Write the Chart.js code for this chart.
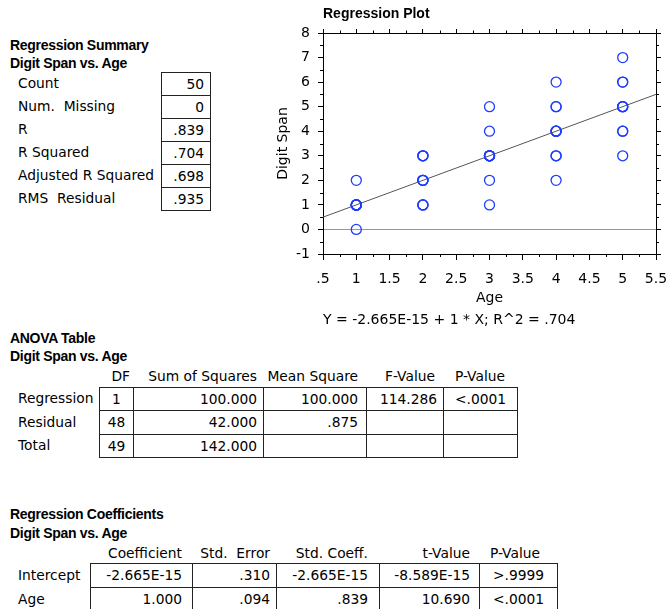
<!DOCTYPE html>
<html>
<head>
<meta charset="utf-8">
<script src="https://cdn.jsdelivr.net/npm/chart.js@4.4.1/dist/chart.umd.min.js"></script>
<style>
body { margin:0; background:#fff; width:666px; height:609px; position:relative; overflow:hidden;
       font-family:"DejaVu Sans", sans-serif; font-size:13.8px; color:#000; }
.t { position:absolute; white-space:pre; }
.h { position:absolute; white-space:pre; font-family:"Liberation Sans", Arial, sans-serif;
     font-weight:bold; font-size:14px; letter-spacing:-0.3px; }
.cell { position:absolute; box-sizing:border-box; border:1px solid #222; white-space:pre; }
#plot { position:absolute; left:260px; top:0; }
</style>
</head>
<body>
<canvas id="plot" width="406" height="335"></canvas>
<script>
// scatter data: Age vs Digit Span (50 cases)
const ages = [1,1,1,1,1,1,1,1,1,1, 2,2,2,2,2,2,2,2,2,2, 3,3,3,3,3,3,3,3,3,3,
              4,4,4,4,4,4,4,4,4,4, 5,5,5,5,5,5,5,5,5,5];
const digitSpan = [0,1,1,1,1,1,1,1,1,2, 1,1,1,2,2,2,2,3,3,3, 1,2,3,3,3,3,3,3,4,5,
                   2,3,3,4,4,4,4,5,5,6, 3,4,4,5,5,5,5,6,6,7];
const intercept = -2.665e-15;
const slope = 1;
const lineX = [0.5, 5.5];

const summaryLabels = ["Count", "Num.  Missing", "R", "R Squared", "Adjusted R Squared", "RMS  Residual"];
const summaryValues = ["50", "0", ".839", ".704", ".698", ".935"];

const anovaHeaders = ["DF", "Sum of Squares", "Mean Square", "F-Value", "P-Value"];
const anovaRows = ["Regression", "Residual", "Total"];
const anovaDF = ["1", "48", "49"];
const anovaSS = ["100.000", "42.000", "142.000"];
const anovaMS = ["100.000", ".875", ""];
const anovaF = ["114.286", "", ""];
const anovaP = ["<.0001", "", ""];

const coefHeaders = ["Coefficient", "Std.  Error", "Std. Coeff.", "t-Value", "P-Value"];
const coefRows = ["Intercept", "Age"];
const coefValue = ["-2.665E-15", "1.000"];
const coefStdErr = [".310", ".094"];
const coefStdCoeff = ["-2.665E-15", ".839"];
const coefT = ["-8.589E-15", "10.690"];
const coefP = [">.9999", "<.0001"];

function addText(txt, x, y, w, h, align, cls) {
    const d = document.createElement("div");
    d.className = cls || "t";
    d.textContent = txt;
    d.style.left = x + "px";
    d.style.top = y + "px";
    if (w) d.style.width = w + "px";
    d.style.height = h + "px";
    d.style.lineHeight = h + "px";
    if (align) d.style.textAlign = align;
    document.body.appendChild(d);
    return d;
}

function addCell(txt, x0, x1, y0, y1, align, pad) {
    const d = document.createElement("div");
    d.className = "cell";
    d.textContent = txt;
    d.style.left = x0 + "px";
    d.style.top = y0 + "px";
    d.style.width = (x1 - x0 + 1) + "px";
    d.style.height = (y1 - y0 + 1) + "px";
    d.style.lineHeight = (y1 - y0 - 1) + "px";
    d.style.textAlign = align;
    if (align === "right") d.style.paddingRight = pad + "px";
    document.body.appendChild(d);
}

// generic table: row labels + columns of values
function drawTable(rowLabels, headers, columns, colX, rowY, headerY, headPad, aligns, cellPad) {
    headers.forEach((h, j) => {
        addText(h, colX[j], headerY, colX[j + 1] - colX[j] - headPad[j], 18, "right");
    });
    rowLabels.forEach((lab, i) => {
        addText(lab, 18, rowY[i], 0, rowY[i + 1] - rowY[i], "left");
        columns.forEach((col, j) => {
            addCell(col[i], colX[j], colX[j + 1], rowY[i], rowY[i + 1], aligns[j], cellPad[j]);
        });
    });
}

// Regression Summary
addText("Regression Summary", 10, 36, 0, 18, "left", "h");
addText("Digit Span vs. Age", 10, 54, 0, 18, "left", "h");
const sumRowY = [72, 95, 118, 141, 164, 187, 210];
summaryLabels.forEach((lab, i) => {
    addText(lab, 18, sumRowY[i], 0, sumRowY[i + 1] - sumRowY[i], "left");
    addCell(summaryValues[i], 161, 210, sumRowY[i], sumRowY[i + 1], "right", 6);
});

// ANOVA table
addText("ANOVA Table", 10, 329, 0, 18, "left", "h");
addText("Digit Span vs. Age", 10, 347, 0, 18, "left", "h");
drawTable(anovaRows, anovaHeaders, [anovaDF, anovaSS, anovaMS, anovaF, anovaP],
    [99, 133, 263, 366, 443, 517], [387, 410, 434, 457], 367,
    [3, 6, 8, 8, 12],
    ["center", "right", "right", "right", "center"], [0, 6, 8, 6, 0]);

// Regression Coefficients
addText("Regression Coefficients", 10, 505, 0, 18, "left", "h");
addText("Digit Span vs. Age", 10, 524, 0, 18, "left", "h");
drawTable(coefRows, coefHeaders, [coefValue, coefStdErr, coefStdCoeff, coefT, coefP],
    [90, 192, 276, 379, 479, 557], [563, 587, 611], 544,
    [10, 6, 11, 9, 17],
    ["right", "right", "right", "right", "center"], [10, 6, 11, 9, 0]);

// minor tick marks between the major ticks of each axis
const minorTicks = {
    id: "minorTicks",
    afterDraw(chart) {
        const c = chart.ctx;
        const a = chart.chartArea;
        c.save();
        c.strokeStyle = "#000";
        c.lineWidth = 1;
        c.beginPath();
        const xs = chart.scales.x;
        for (let i = 0; i < xs.ticks.length - 1; i++) {
            const v = (xs.ticks[i].value + xs.ticks[i + 1].value) / 2;
            const p = Math.round(xs.getPixelForValue(v)) + 0.5;
            c.moveTo(p, a.bottom); c.lineTo(p, a.bottom + 3);
            c.moveTo(p, a.top); c.lineTo(p, a.top - 2.5);
        }
        const ys = chart.scales.y;
        for (let i = 0; i < ys.ticks.length - 1; i++) {
            const v = (ys.ticks[i].value + ys.ticks[i + 1].value) / 2;
            const p = Math.round(ys.getPixelForValue(v)) + 0.5;
            c.moveTo(a.left, p); c.lineTo(a.left - 3, p);
            c.moveTo(a.right, p); c.lineTo(a.right + 3, p);
        }
        c.stroke();
        c.restore();
    }
};

const tickFont = { family: "DejaVu Sans", size: 14 };
const fmt = v => String(v).replace(/^0\./, ".");
const noPad = s => { s.paddingLeft = 0; s.paddingRight = 0; };

new Chart(document.getElementById("plot").getContext("2d"), {
    type: "scatter",
    data: {
        datasets: [{
            data: ages.map((a, i) => ({ x: a, y: digitSpan[i] })),
            pointStyle: "circle",
            pointRadius: 5,
            pointHoverRadius: 5,
            borderColor: "#1e3cff",
            backgroundColor: "rgba(0,0,0,0)",
            borderWidth: 1.3
        }, {
            type: "line",
            data: lineX.map(x => ({ x: x, y: intercept + slope * x })),
            borderColor: "#555",
            borderWidth: 1,
            pointRadius: 0,
            fill: false
        }]
    },
    options: {
        responsive: false,
        animation: false,
        events: [],
        layout: { padding: 0 },
        plugins: {
            legend: { display: false },
            tooltip: { enabled: false },
            title: {
                display: true, text: "Regression Plot", align: "start", fullSize: false,
                color: "#000", font: { family: "Liberation Sans", size: 14, weight: "bold" },
                padding: { top: 6, bottom: 2.2 }
            },
            subtitle: {
                display: true, text: "Y = -2.665E-15 + 1 * X; R^2 = .704", position: "bottom",
                align: "start", fullSize: false, color: "#000", font: tickFont,
                padding: { top: 1.6, bottom: 6.6 }
            }
        },
        scales: {
            x: {
                type: "linear", position: "bottom", min: 0.5, max: 5.5,
                ticks: { stepSize: 0.5, callback: fmt, color: "#000", font: tickFont,
                         autoSkip: false, maxRotation: 0, padding: 11 },
                grid: { drawOnChartArea: false, tickLength: 6, color: "#000" },
                border: { color: "#000" },
                title: { display: true, text: "Age", color: "#000", font: tickFont,
                         padding: { top: 0, bottom: 3.6 } },
                afterFit: s => { s.height = 56; noPad(s); }
            },
            x2: {
                type: "linear", position: "top", min: 0.5, max: 5.5,
                ticks: { stepSize: 0.5, display: false },
                grid: { drawOnChartArea: false, tickLength: 4, color: "#000" },
                border: { color: "#000" },
                afterFit: s => { s.height = 8; noPad(s); }
            },
            y: {
                type: "linear", position: "left", min: -1, max: 8,
                ticks: { stepSize: 1, color: "#000", font: tickFont, padding: 8 },
                grid: { color: ctx => ctx.tick && ctx.tick.value === 0 ? "#999" : "rgba(0,0,0,0)",
                        tickColor: "#000", tickLength: 5 },
                border: { color: "#000" },
                title: { display: true, text: "Digit Span", color: "#000", font: tickFont,
                         padding: { top: 14.6, bottom: 0 } },
                afterFit: s => { s.width = 63; }
            },
            y2: {
                type: "linear", position: "right", min: -1, max: 8,
                ticks: { stepSize: 1, display: false },
                grid: { drawOnChartArea: false, tickLength: 5, color: "#000" },
                border: { color: "#000" },
                afterFit: s => { s.width = 10; }
            }
        }
    },
    plugins: [minorTicks]
});
</script>
</body>
</html>
